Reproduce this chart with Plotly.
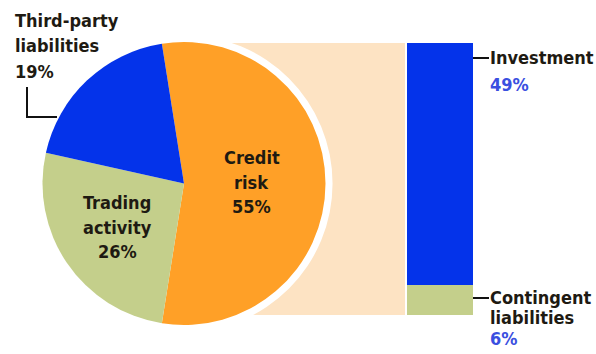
import math
import plotly.graph_objects as go

W, H = 596, 354

# Sources of risk, percent of total
pie_labels = ["Credit risk", "Trading activity", "Third-party liabilities"]
pie_values = [55, 26, 19]
pie_text = [["Credit", "risk"], ["Trading", "activity"], ["Third-party", "liabilities"]]

# Breakdown of the credit-risk share (bottom segment first)
bar_labels = ["Contingent liabilities", "Investment"]
bar_values = [6, 49]
bar_text = [["Contingent", "liabilities"], ["Investment"]]

ORANGE = "#ffa027"
GREEN = "#c4cf8b"
BLUE = "#0433ea"
PEACH = "#fde3c3"
TEXT_DARK = "#1e1a12"
TEXT_BLUE = "#3a4fe0"
FONT = "DejaVu Sans Condensed, DejaVu Sans, sans-serif"
FONT_SIZE = 18

# geometry (pixels)
PIE_CX, PIE_CY, PIE_R = 184, 183.5, 141.5
HALO = 7
START_ANGLE = -9          # degrees clockwise from 12 o'clock
BAR_X, BAR_W = 440, 66
BAR_TOP_PX, BAR_BOTTOM_PX = 43, 315


def py(p):
    """pixel row -> paper y"""
    return 1 - p / H


def pie_domain(r):
    return dict(x=[(PIE_CX - r) / W, (PIE_CX + r) / W],
                y=[py(PIE_CY + r), py(PIE_CY - r)])


total = sum(bar_values)
scale = total / (BAR_BOTTOM_PX - BAR_TOP_PX)
y_range = [-(H - BAR_BOTTOM_PX) * scale, total + BAR_TOP_PX * scale]

fig = go.Figure()

# white halo separating the pie from the linking band
fig.add_trace(go.Pie(
    values=[1], labels=[""], sort=False,
    marker=dict(colors=["white"], line=dict(width=0)),
    textinfo="none", hoverinfo="skip", showlegend=False,
    domain=pie_domain(PIE_R + HALO),
))

fig.add_trace(go.Pie(
    labels=pie_labels,
    values=pie_values,
    sort=False,
    direction="clockwise",
    rotation=START_ANGLE,
    marker=dict(colors=[ORANGE, GREEN, BLUE], line=dict(width=0)),
    textinfo="none",
    showlegend=False,
    domain=pie_domain(PIE_R),
))

for lab, val, col in zip(bar_labels, bar_values, [GREEN, BLUE]):
    fig.add_trace(go.Bar(
        x=[BAR_X], y=[val], width=BAR_W, name=lab,
        marker=dict(color=col, line=dict(width=0)),
        showlegend=False,
    ))

bar_right = BAR_X + BAR_W / 2
shapes = [
    # band linking the credit-risk slice to its breakdown
    dict(type="rect", xref="x", yref="y", layer="below",
         x0=PIE_CX, x1=BAR_X - BAR_W / 2 - 2, y0=0, y1=total,
         fillcolor=PEACH, line=dict(width=0)),
    # leader for the third-party slice
    dict(type="path", xref="x", yref="paper",
         path=f"M 27,{py(87)} L 27,{py(117)} L 57,{py(117)}",
         line=dict(color="#111111", width=2)),
    # ticks next to the bar
    dict(type="line", xref="x", yref="paper",
         x0=bar_right, x1=bar_right + 16, y0=py(58), y1=py(58),
         line=dict(color="#111111", width=2)),
    dict(type="line", xref="x", yref="paper",
         x0=bar_right, x1=bar_right + 16, y0=py(298), y1=py(298),
         line=dict(color="#111111", width=2)),
]

annotations = []


def text_block(lines, colors, x, ys, xanchor):
    for line, col, yy in zip(lines, colors, ys):
        annotations.append(dict(
            x=x, y=py(yy), xref="x", yref="paper",
            text=f"<b>{line}</b>", showarrow=False,
            xanchor=xanchor, yanchor="middle",
            font=dict(family=FONT, size=FONT_SIZE, color=col),
        ))


# labels inside the pie, placed along each slice's mid-angle
radial_frac = {0: 0.48, 1: 0.57}
cum = 0
for i, v in enumerate(pie_values):
    mid = START_ANGLE + (cum + v / 2) / sum(pie_values) * 360
    cum += v
    if i not in radial_frac:
        continue
    r = radial_frac[i] * PIE_R
    x = PIE_CX + r * math.sin(math.radians(mid))
    y = PIE_CY - r * math.cos(math.radians(mid)) - 1.5
    text_block(pie_text[i] + [f"{v}%"], [TEXT_DARK] * 3, x,
               [y - 24.5, y, y + 24.5], "center")

# third-party slice label, outside the pie
text_block(pie_text[2] + [f"{pie_values[2]}%"], [TEXT_DARK] * 3, 13,
           [20, 45.5, 71.5], "left")

# labels beside the bar
text_block(bar_text[1] + [f"{bar_values[1]}%"], [TEXT_DARK, TEXT_BLUE],
           bar_right + 15, [57, 85], "left")
text_block(bar_text[0] + [f"{bar_values[0]}%"], [TEXT_DARK, TEXT_DARK, TEXT_BLUE],
           bar_right + 15, [297, 317.5, 338], "left")

fig.update_layout(
    width=W, height=H,
    margin=dict(l=0, r=0, t=0, b=0),
    paper_bgcolor="white", plot_bgcolor="white",
    barmode="stack",
    xaxis=dict(range=[0, W], visible=False, fixedrange=True),
    yaxis=dict(range=y_range, visible=False, fixedrange=True),
    shapes=shapes,
    annotations=annotations,
)

fig.write_html("out.html")
